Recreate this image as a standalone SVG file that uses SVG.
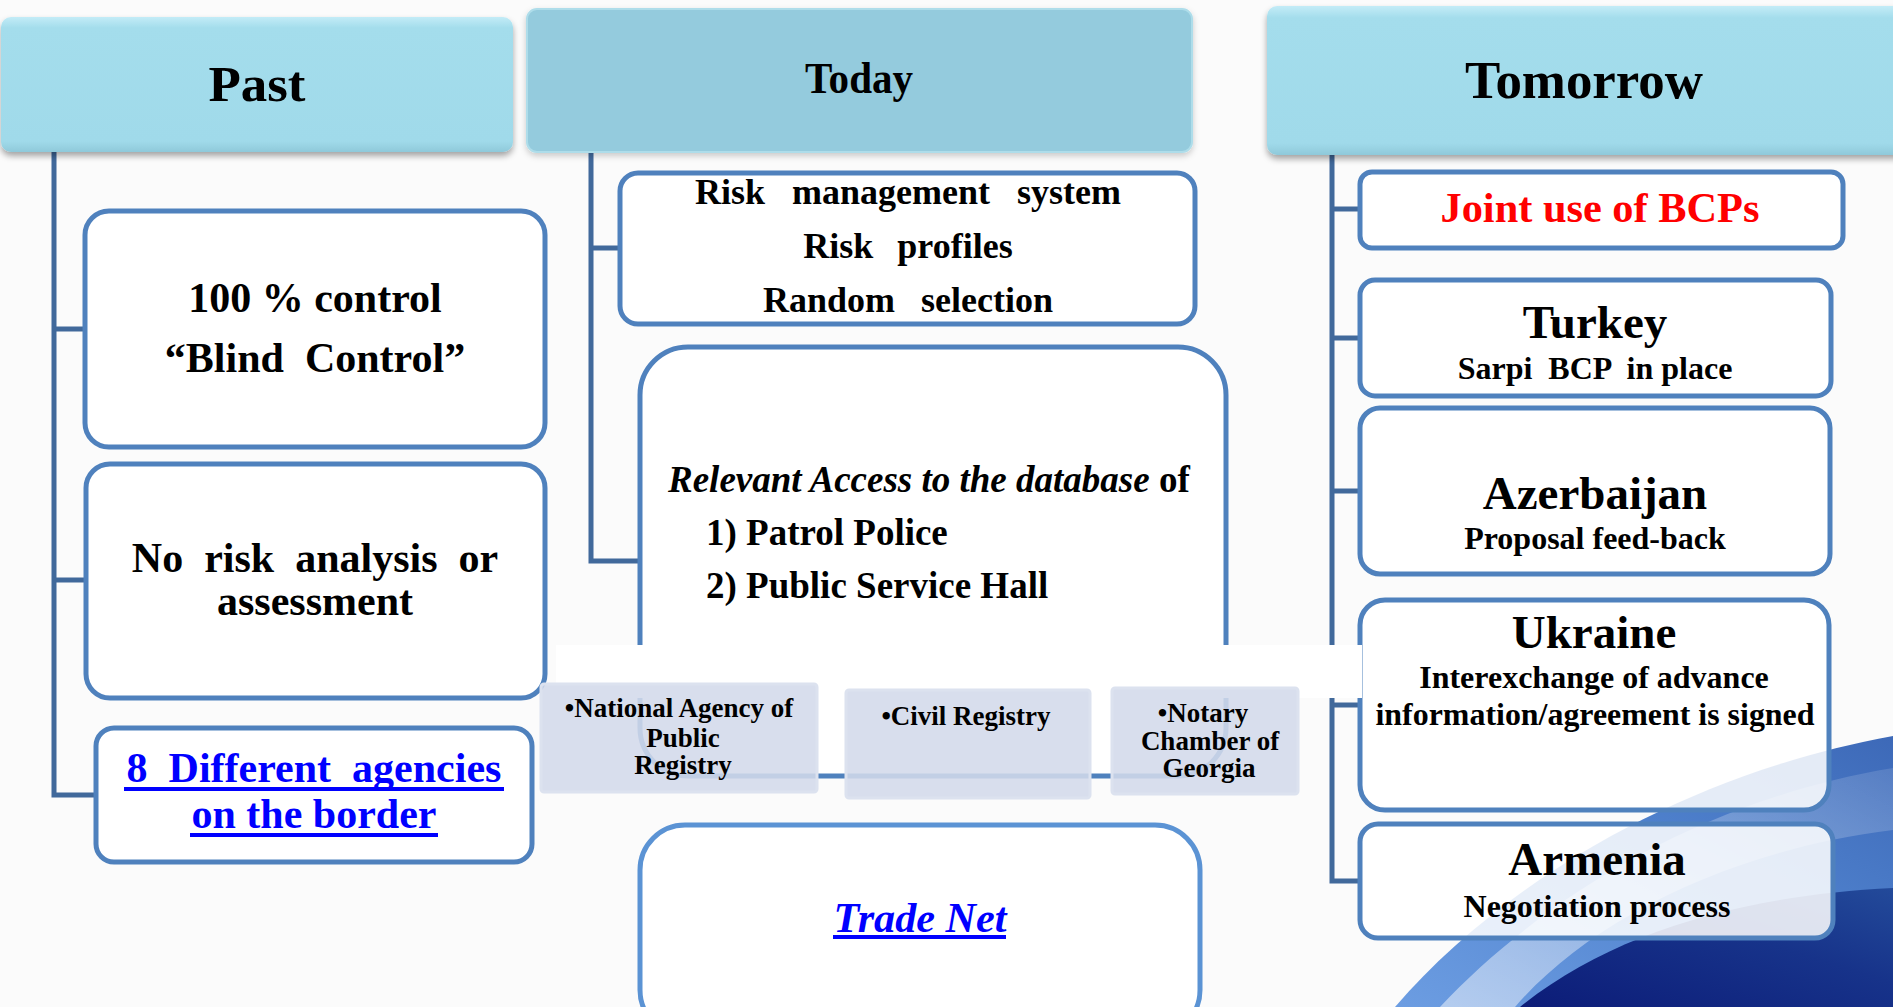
<svg xmlns="http://www.w3.org/2000/svg" width="1893" height="1007" viewBox="0 0 1893 1007">
  <defs>
    <linearGradient id="hdrGrad" x1="0" y1="0" x2="0" y2="1">
      <stop offset="0" stop-color="#C3ECF7"/>
      <stop offset="0.08" stop-color="#A4DDEC"/>
      <stop offset="0.92" stop-color="#A0DAEA"/>
      <stop offset="1" stop-color="#8FC9DA"/>
    </linearGradient>
    <linearGradient id="swooshBlue" x1="0" y1="1" x2="1" y2="0">
      <stop offset="0" stop-color="#6C9DE2"/>
      <stop offset="0.6" stop-color="#4E80CC"/>
      <stop offset="1" stop-color="#3D69B8"/>
    </linearGradient>
    <linearGradient id="swooshNavy" x1="0" y1="1" x2="1" y2="0">
      <stop offset="0" stop-color="#0C1C78"/>
      <stop offset="0.6" stop-color="#17338A"/>
      <stop offset="1" stop-color="#234A9A"/>
    </linearGradient>
    <linearGradient id="swooshSheen" x1="0" y1="1" x2="1" y2="0">
      <stop offset="0" stop-color="#FFFFFF" stop-opacity="0.5"/>
      <stop offset="1" stop-color="#FFFFFF" stop-opacity="0.12"/>
    </linearGradient>
    <filter id="hdrShadow" x="-5%" y="-10%" width="110%" height="130%">
      <feDropShadow dx="0" dy="4" stdDeviation="3" flood-color="#000000" flood-opacity="0.35"/>
    </filter>
    <filter id="hdrShadowSoft" x="-5%" y="-10%" width="110%" height="130%">
      <feDropShadow dx="0" dy="3" stdDeviation="3" flood-color="#000000" flood-opacity="0.2"/>
    </filter>
    <style>
      .hdr { fill: url(#hdrGrad); filter: url(#hdrShadow); }
      .hdr-flat { fill: #94CBDD; stroke: #AEDDEA; stroke-width: 2; filter: url(#hdrShadowSoft); }
      .box { fill: #FFFFFF; stroke: #4F81BD; stroke-width: 5; }
      .box-see { fill: #FFFFFF; fill-opacity: 0.86; stroke: #4F81BD; stroke-width: 5; }
      .box-trade { fill: #FFFFFF; stroke: #5B93D4; stroke-width: 5; }
      .agency { fill: #D3DAEA; fill-opacity: 0.88; stroke: #DCE2EF; stroke-width: 3; }
      .conn { fill: none; stroke: #41699B; stroke-width: 5; }
      text { font-family: "Liberation Serif", "Times New Roman", serif; font-weight: bold; fill: #000000; }
      .c { text-anchor: middle; }
      .t42 { font-size: 42px; }
      .t36 { font-size: 36px; }
      .t37 { font-size: 37px; }
      .t27 { font-size: 27px; }
      .t47 { font-size: 47px; }
      .t32 { font-size: 32px; }
      .link { fill: #0000FF; }
      .red { fill: #FF0000; }
      .it { font-style: italic; }
      .uline { fill: #0000FF; }
    </style>
  </defs>

  <!-- slide background -->
  <rect x="0" y="0" width="1893" height="1007" fill="#FBFBFB"/>

  <!-- decorative swoosh, bottom right -->
  <g id="swoosh">
    <path d="M1395,1007 C1500,885 1680,775 1893,736 L1893,1007 Z" fill="url(#swooshBlue)"/>
    <path d="M1440,1007 C1540,900 1700,800 1893,768 L1893,830 C1730,850 1590,920 1515,1007 Z" fill="url(#swooshSheen)"/>
    <path d="M1520,1007 C1615,930 1750,895 1893,888 L1893,1007 Z" fill="url(#swooshNavy)"/>
  </g>

  <!-- connectors -->
  <g id="connectors">
    <path class="conn" d="M54,152 V795 H96"/>
    <path class="conn" d="M54,329 H85"/>
    <path class="conn" d="M54,580 H85"/>
    <path class="conn" d="M591,152 V561 H640"/>
    <path class="conn" d="M591,248 H620"/>
    <path class="conn" d="M1332,155 V881 H1360"/>
    <path class="conn" d="M1332,209 H1360"/>
    <path class="conn" d="M1332,338 H1360"/>
    <path class="conn" d="M1332,491 H1360"/>
    <path class="conn" d="M1332,705 H1360"/>
  </g>

  <!-- column headers -->
  <g id="hdr-past">
    <rect class="hdr" x="1" y="17" width="512" height="135" rx="10"/>
    <text class="c" x="257" y="101" font-size="50" textLength="97" lengthAdjust="spacingAndGlyphs">Past</text>
  </g>
  <g id="hdr-today">
    <rect class="hdr-flat" x="527" y="9" width="665" height="143" rx="10"/>
    <text class="c" x="859" y="93" font-size="45" textLength="108" lengthAdjust="spacingAndGlyphs">Today</text>
  </g>
  <g id="hdr-tomorrow">
    <rect class="hdr" x="1267" y="6" width="640" height="149" rx="10"/>
    <text class="c" x="1584" y="98" font-size="53" textLength="238" lengthAdjust="spacingAndGlyphs">Tomorrow</text>
  </g>

  <!-- Past column -->
  <g id="past-control">
    <rect class="box" x="85" y="211" width="460" height="236" rx="24"/>
    <text class="c t42" x="315" y="312">100 % control</text>
    <text class="c t42" x="315" y="372" xml:space="preserve">“Blind  Control”</text>
  </g>
  <g id="past-risk">
    <rect class="box" x="86" y="464" width="459" height="234" rx="24"/>
    <text class="c t42" x="315" y="572" xml:space="preserve">No  risk  analysis  or</text>
    <text class="c t42" x="315" y="615">assessment</text>
  </g>
  <g id="past-agencies">
    <rect class="box" x="96" y="728" width="436" height="134" rx="18"/>
    <text class="c t42 link" x="314" y="782" xml:space="preserve">8  Different  agencies</text>
    <rect class="uline" x="124" y="787" width="380" height="4"/>
    <text class="c t42 link" x="314" y="828">on the border</text>
    <rect class="uline" x="190" y="833" width="248" height="4"/>
  </g>

  <!-- Today column -->
  <g id="today-risk">
    <rect class="box" x="620" y="173" width="575" height="151" rx="18"/>
    <text class="c t36" x="908" y="204" xml:space="preserve">Risk   management   system</text>
    <text class="c t36" x="908" y="258" xml:space="preserve" word-spacing="3">Risk  profiles</text>
    <text class="c t36" x="908" y="312" xml:space="preserve" word-spacing="4">Random  selection</text>
  </g>
  <g id="today-access">
    <rect class="box" x="640" y="347" width="586" height="429" rx="48"/>
    <text class="t37" x="668" y="492"><tspan class="it">Relevant Access to the database</tspan> of</text>
    <text class="t37" x="706" y="545">1) Patrol Police</text>
    <text class="t37" x="706" y="598">2) Public Service Hall</text>
  </g>

  <!-- Tomorrow column -->
  <g id="tomorrow-joint">
    <rect class="box" x="1360" y="172" width="483" height="76" rx="12"/>
    <text class="c t42 red" x="1600" y="222" textLength="319" lengthAdjust="spacingAndGlyphs">Joint use of BCPs</text>
  </g>
  <g id="tomorrow-turkey">
    <rect class="box" x="1360" y="280" width="471" height="116" rx="15"/>
    <text class="c t47" x="1595" y="338">Turkey</text>
    <text class="c t32" x="1595" y="379" xml:space="preserve">Sarpi  BCP  in place</text>
  </g>
  <g id="tomorrow-azerbaijan">
    <rect class="box" x="1360" y="408" width="470" height="166" rx="20"/>
    <text class="c t47" x="1595" y="509">Azerbaijan</text>
    <text class="c t32" x="1595" y="549">Proposal feed-back</text>
  </g>
  <g id="tomorrow-ukraine">
    <rect class="box-see" x="1360" y="600" width="469" height="210" rx="25"/>
    <text class="c t47" x="1594" y="648">Ukraine</text>
    <text class="c t32" x="1594" y="688">Interexchange of advance</text>
    <text class="c t32" x="1595" y="725" textLength="439" lengthAdjust="spacingAndGlyphs">information/agreement is signed</text>
  </g>
  <g id="tomorrow-armenia">
    <rect class="box-see" x="1360" y="824" width="473" height="114" rx="18"/>
    <text class="c t47" x="1597" y="875">Armenia</text>
    <text class="c t32" x="1597" y="917">Negotiation process</text>
  </g>

  <!-- backdrop strip behind the agency list -->
  <rect x="556" y="645" width="806" height="53" fill="#FFFFFF"/>

  <!-- agencies sharing data -->
  <g id="agency-napr">
    <rect class="agency" x="541" y="684" width="276" height="108" rx="3"/>
    <text class="c t27" x="679" y="717">•National Agency of</text>
    <text class="c t27" x="683" y="747">Public</text>
    <text class="c t27" x="683" y="774">Registry</text>
  </g>
  <g id="agency-civil">
    <rect class="agency" x="846" y="690" width="244" height="108" rx="3"/>
    <text class="c t27" x="966" y="725">•Civil Registry</text>
  </g>
  <g id="agency-notary">
    <rect class="agency" x="1112" y="688" width="186" height="106" rx="3"/>
    <text class="c t27" x="1203" y="722">•Notary</text>
    <text class="c t27" x="1210" y="750">Chamber of</text>
    <text class="c t27" x="1209" y="777">Georgia</text>
  </g>

  <!-- Trade Net -->
  <g id="today-tradenet">
    <rect class="box-trade" x="640" y="825" width="560" height="210" rx="45"/>
    <text class="c t42 link it" x="920" y="932" textLength="173" lengthAdjust="spacingAndGlyphs">Trade Net</text>
    <rect class="uline" x="833" y="935" width="173" height="4"/>
  </g>
</svg>
